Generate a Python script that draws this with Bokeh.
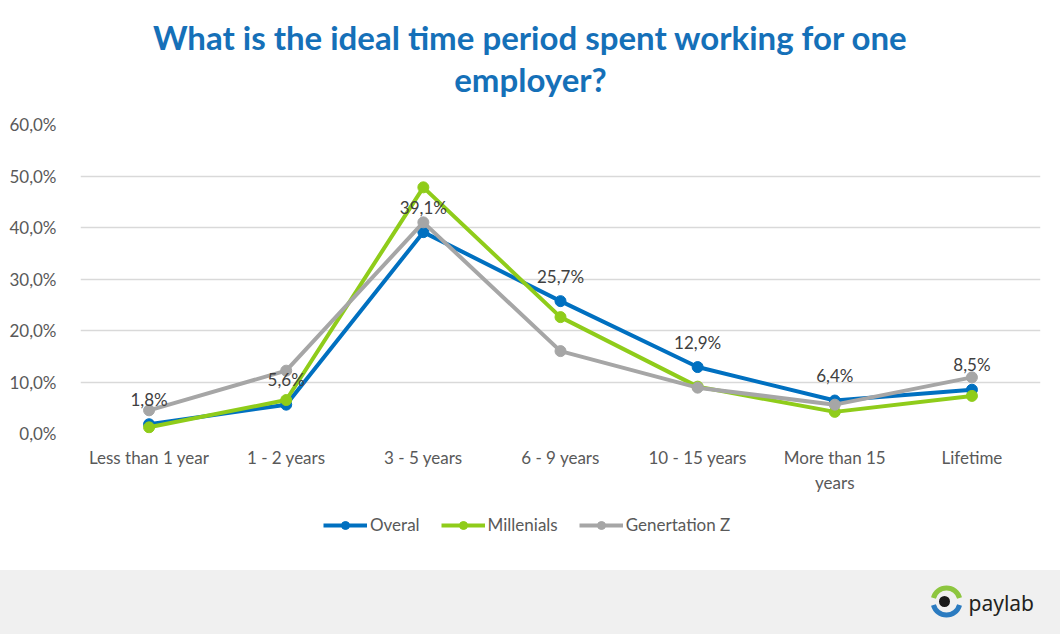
from bokeh.plotting import figure
from bokeh.models import FactorRange, Range1d, FixedTicker, Legend, LegendItem, ColumnDataSource
from bokeh.layouts import column
from bokeh.core.properties import value
from bokeh.embed import file_html
from bokeh.resources import INLINE
import numpy as np
import math

categories = ["Less than 1 year", "1 - 2 years", "3 - 5 years", "6 - 9 years",
              "10 - 15 years", "More than 15\nyears", "Lifetime"]
overall = [1.8, 5.6, 39.1, 25.7, 12.9, 6.4, 8.5]
millenials = [1.2, 6.5, 47.8, 22.6, 9.1, 4.2, 7.3]
gen_z = [4.5, 12.2, 41.0, 16.0, 8.9, 5.6, 10.9]
series_names = ["Overal", "Millenials", "Genertation Z"]
y_ticks = [0, 10, 20, 30, 40, 50, 60]
y_tick_labels = ["0,0%", "10,0%", "20,0%", "30,0%", "40,0%", "50,0%", "60,0%"]
title_lines = ["What is the ideal time period spent working for one", "employer?"]

FONT = "Lato"
TXT = "#595959"
colors = ["#0070c0", "#8fcc1a", "#a6a6a6"]
W = 1060
LEFT, RIGHT = 80, 20


def blank(h, bg="white"):
    f = figure(width=W, height=h, x_range=Range1d(LEFT, W - RIGHT), y_range=Range1d(0, h),
               output_backend="svg", toolbar_location=None, x_axis_type=None, y_axis_type=None,
               min_border_left=LEFT, min_border_right=RIGHT, min_border_top=0, min_border_bottom=0,
               styles={"background-color": bg})
    f.outline_line_color = None
    f.background_fill_color = bg
    f.border_fill_color = bg
    f.grid.grid_line_color = None
    return f


# ---- title
tfig = blank(110)
tfig.text(x=[W / 2, W / 2], y=[74, 32], text=title_lines, text_align="center",
          text_baseline="middle", text_font=value(FONT), text_font_size="33px",
          text_font_style="bold", text_color="#1570b8")

# ---- main chart
p = figure(width=W, height=395, x_range=FactorRange(*categories, range_padding=0),
           y_range=Range1d(0, 60), output_backend="svg", toolbar_location=None,
           min_border_left=LEFT, min_border_right=RIGHT, min_border_top=14, min_border_bottom=72)
p.outline_line_color = None
p.xgrid.grid_line_color = None
p.ygrid.grid_line_color = "#d9d9d9"
p.ygrid.grid_line_width = 1.5
p.yaxis.ticker = FixedTicker(ticks=y_ticks)
p.yaxis.major_label_overrides = {t: l for t, l in zip(y_ticks, y_tick_labels)}
for ax in (p.xaxis, p.yaxis):
    ax.axis_line_color = None
    ax.major_tick_line_color = None
    ax.minor_tick_line_color = None
    ax.major_label_text_font = FONT
    ax.major_label_text_font_size = "17px"
    ax.major_label_text_color = TXT
p.yaxis.major_label_standoff = 18
p.xaxis.major_label_standoff = 7

for vals, col in zip([overall, millenials, gen_z], colors):
    src = ColumnDataSource(dict(x=categories, y=vals))
    p.line("x", "y", source=src, line_color=col, line_width=4)
    p.scatter("x", "y", source=src, size=11, fill_color=col, line_color=col)

lab_src = ColumnDataSource(dict(x=categories, y=overall,
                                t=[("%.1f" % v).replace(".", ",") + "%" for v in overall]))
p.text("x", "y", text="t", source=lab_src, text_align="center", text_baseline="middle",
       y_offset=-25, text_font=value(FONT), text_font_size="17px", text_color="#404040")

# ---- legend (proxy renderers with no visible data)
lfig = blank(65)
items = []
for name, col in zip(series_names, colors):
    proxy = ColumnDataSource(dict(x=np.array([np.nan]), y=np.array([np.nan])))
    l = lfig.line("x", "y", source=proxy, line_color=col, line_width=4)
    s = lfig.scatter("x", "y", source=proxy, size=11, fill_color=col, line_color=col)
    items.append(LegendItem(label=name, renderers=[l, s]))
legend = Legend(items=items, orientation="horizontal", location=(243, 35),
                glyph_width=44, glyph_height=20, label_standoff=3, spacing=21, padding=0,
                label_text_font=FONT, label_text_font_size="17px", label_text_color=TXT,
                border_line_color=None, background_fill_alpha=0, margin=0)
lfig.add_layout(legend, "center")

# ---- footer strip with logo
strip = blank(64, "#f0f0f0")
strip.annular_wedge(x=[946], y=[33], inner_radius=11, outer_radius=16,
                    start_angle=math.radians(15), end_angle=math.radians(165),
                    fill_color="#8dc63f", line_color=None)
strip.annular_wedge(x=[946], y=[33], inner_radius=11, outer_radius=16,
                    start_angle=math.radians(195), end_angle=math.radians(345),
                    fill_color="#2b7bc0", line_color=None)
strip.scatter(x=[944], y=[33], size=11, fill_color="#1a1a1a", line_color=None)
strip.text(x=[968], y=[32], text=["paylab"], text_font=value("Noto Sans"), text_font_size="21px",
           text_baseline="middle", text_color="#231f20")

layout = column(tfig, p, lfig, strip, spacing=0)
open("out.html", "w").write(file_html(layout, INLINE))
